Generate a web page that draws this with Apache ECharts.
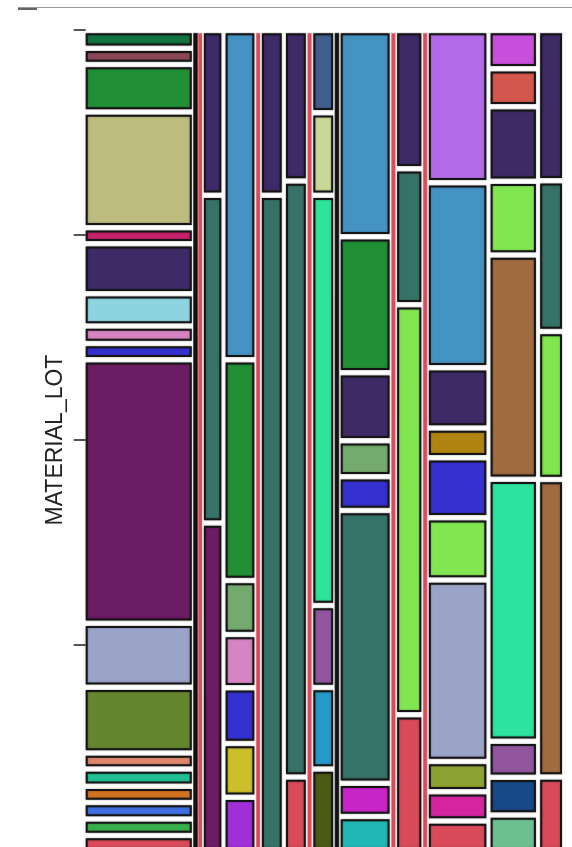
<!DOCTYPE html>
<html><head><meta charset="utf-8">
<script src="https://cdn.jsdelivr.net/npm/echarts@6/dist/echarts.min.js"></script>
<style>html,body{margin:0;padding:0;background:#fff}#c{width:572px;height:847px}</style>
</head><body><div id="c"></div>
<script>
// ---- data ----
const yTitle = 'MATERIAL_LOT';
const yTicks = [0, 0.25, 0.5, 0.75, 1];
// x-levels (columns) and their widths (counts); zero = empty column drawn as a thin line
const xLevels = ['X01','X02','X03','X04','X05','X06','X07','X08','X09','X10','X11','X12','X13','X14','X15','X16','X17','X18'];
const xCounts = [107, 0, 0, 17.6, 29, 0, 20, 20, 0, 20, 0, 49.3, 0, 24.4, 0, 58, 45.7, 22];
const emptyColumnLot = {X02:'L00', X03:'L18', X06:'L18', X09:'L18', X11:'L00', X13:'L18', X15:'L18'};

const lotColors = {
  L00:'#111111', L01:'#137340', L02:'#8a4757', L03:'#218f35', L04:'#bdbb7e', L05:'#c8216c',
  L06:'#3f2a68', L07:'#8dd4df', L08:'#d784c2', L09:'#3530d0', L10:'#6c1c62', L11:'#9ba3c8',
  L12:'#63862f', L13:'#e0866c', L14:'#20c094', L15:'#d27320', L16:'#3f6fe0', L17:'#39b04b',
  L18:'#d94a5a', L19:'#377268', L20:'#4593c3', L21:'#74aa6e', L23:'#ccc02a', L24:'#a02fd8',
  L25:'#405f8e', L26:'#c8d898', L27:'#2de39e', L28:'#9155a0', L29:'#2599c8', L30:'#4a5a14',
  L31:'#c824c8', L32:'#20b8b4', L33:'#82e650', L34:'#b36ae8', L35:'#b08410', L36:'#8ca230',
  L37:'#d424a0', L38:'#c84fdc', L39:'#d4574b', L40:'#a06c40', L41:'#184888', L42:'#6cc090'
};

const x01Lots = ['L01','L02','L03','L04','L05','L06','L07','L08','L09','L10','L11','L12','L13','L14','L15','L16','L17','L18'];
const x01Vals = [12.4,10.6,42.3,111,10.6,44.7,27,12,11,259.7,58.7,60.7,10.7,11.6,11,11,11,11.3];
const x04Lots = ['L06','L19','L10'];
const x04Vals = [159.4,323,324.3];
const x05Lots = ['L20','L03','L21','L08','L09','L23','L24'];
const x05Vals = [322.7,214.4,48.4,47.6,50,48,49.3];
const x07Lots = ['L06','L19'];
const x07Vals = [159.4,652.3];
const x08Lots = ['L06','L19','L18'];
const x08Vals = [145,591,69.7];
const x10Lots = ['L25','L26','L27','L28','L29','L30'];
const x10Vals = [76.7,77,404.6,76.3,76,77.7];
const x12Lots = ['L20','L03','L06','L21','L09','L19','L31','L32'];
const x12Vals = [200,130,62.3,30.3,28.3,266.3,27.6,30];
const x14Lots = ['L06','L19','L33','L18'];
const x14Vals = [132.7,130.3,404.3,131.7];
const x16Lots = ['L34','L20','L06','L35','L09','L33','L11','L36','L37','L18'];
const x16Vals = [146.7,179.3,54.7,24.3,54.3,56.7,176,24.7,23.6,25.7];
const x17Lots = ['L38','L39','L06','L33','L40','L27','L28','L41','L42'];
const x17Vals = [32.7,32.3,69,68.3,218.4,256,30.7,32,31.7];
const x18Lots = ['L06','L19','L33','L40','L18'];
const x18Vals = [145,145.4,142.7,292.4,69.7];

const columnCells = {
  X01:[x01Lots,x01Vals], X04:[x04Lots,x04Vals], X05:[x05Lots,x05Vals], X07:[x07Lots,x07Vals],
  X08:[x08Lots,x08Vals], X10:[x10Lots,x10Vals], X12:[x12Lots,x12Vals], X14:[x14Lots,x14Vals],
  X16:[x16Lots,x16Vals], X17:[x17Lots,x17Vals], X18:[x18Lots,x18Vals]
};

// ---- layout constants (spacing, in axis units) ----
const GAP_X = 4.3, GAP_X_THIN = 1.9, GAP_X_THIN2 = 0.8, THIN_W = 3.8;
const Y_TOP = 3.3/820, Y_BOT = 1 - 0.6/820, GAP_Y = 5.5/820;

const lotKeys = Object.keys(lotColors);
const rects = [];
let cx = 0;
xLevels.forEach((lv, i) => {
  const empty = xCounts[i] === 0;
  if (i > 0) {
    const prevEmpty = xCounts[i-1] === 0;
    cx += (empty && prevEmpty) ? GAP_X_THIN2 : (empty || prevEmpty) ? GAP_X_THIN : GAP_X;
  }
  const w = empty ? THIN_W : xCounts[i];
  if (empty) {
    rects.push([cx, cx + w, Y_TOP, Y_BOT, lotKeys.indexOf(emptyColumnLot[lv]), 1]);
  } else {
    const [lots, vals] = columnCells[lv];
    const sum = vals.reduce((a,b)=>a+b,0);
    const avail = (Y_BOT - Y_TOP) - GAP_Y*(vals.length-1);
    let cy = Y_TOP;
    vals.forEach((v, k) => {
      const h = v/sum*avail;
      rects.push([cx, cx + w, cy, cy + h, lotKeys.indexOf(lots[k]), 0]);
      cy += h + GAP_Y;
    });
  }
  cx += w;
});
const xTotal = cx;

const chart = echarts.init(document.getElementById('c'), null, {renderer:'canvas'});
chart.setOption({
  animation: false,
  backgroundColor: '#fff',
  grid: {left: 85.7, top: 30, width: 476.3, height: 820, containLabel: false, outerBoundsMode: 'none'},
  xAxis: {type:'value', min:0, max:xTotal, show:false},
  yAxis: {
    type:'value', min:0, max:1, interval:0.25, inverse:true, offset:5,
    name: yTitle, nameLocation:'middle', nameGap: 14, nameRotate: 90,
    nameTextStyle: {fontFamily:'Liberation Sans, Arial, sans-serif', fontSize:23, color:'#222'},
    axisLine:{show:false}, splitLine:{show:false}, axisLabel:{show:false},
    axisTick:{show:true, length:12, lineStyle:{color:'#555', width:2}}
  },
  graphic: [
    {type:'line', shape:{x1:18, y1:7.5, x2:572, y2:7.5}, style:{stroke:'#999', lineWidth:1}},
    {type:'line', shape:{x1:18, y1:9, x2:37, y2:9}, style:{stroke:'#111', lineWidth:1.3}}
  ],
  series: [{
    type:'custom',
    data: rects,
    encode: {x:[0,1], y:[2,3]},
    renderItem: function(params, api) {
      const p0 = api.coord([api.value(0), api.value(2)]);
      const p1 = api.coord([api.value(1), api.value(3)]);
      const color = lotColors[lotKeys[api.value(4)]];
      const thin = api.value(5) === 1;
      if (thin) {
        return {type:'rect', shape:{x:p0[0], y:p0[1], width:p1[0]-p0[0], height:p1[1]-p0[1]},
          style:{fill:color, stroke: color === '#111111' ? '#222' : 'rgba(230,120,130,0.6)', lineWidth:0.8}};
      }
      return {type:'rect', shape:{x:p0[0]+1, y:p0[1]+1, width:p1[0]-p0[0]-2, height:p1[1]-p0[1]-2},
        style:{fill:color, stroke:'#151515', lineWidth:2, shadowBlur:2, shadowColor:'rgba(0,0,0,0.35)'}};
    }
  }]
});
</script>
</body></html>
